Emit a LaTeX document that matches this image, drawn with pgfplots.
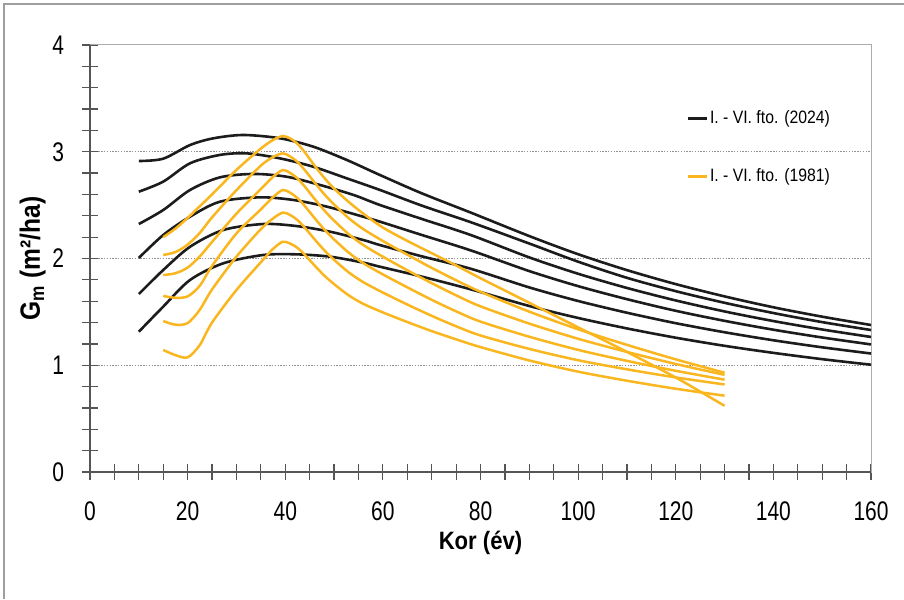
\documentclass[border=0pt]{standalone}
\usepackage{fontspec}
\setmainfont{Liberation Sans}[FakeStretch=0.88]
\newfontfamily\narrowfont{Liberation Sans}[FakeStretch=0.78]
\usepackage{pgfplots}
\pgfplotsset{compat=1.18}

\definecolor{curveblack}{RGB}{28,28,28}
\definecolor{curveyellow}{RGB}{249,182,30}
\definecolor{axisgray}{RGB}{85,85,85}

\begin{document}
\begin{tikzpicture}[x=1bp,y=1bp]
\useasboundingbox (0,0) rectangle (452,299.5);
\draw[gray!75, line width=0.8bp] (2,0) -- (2,297.5) -- (452,297.5);
\begin{axis}[
  at={(45bp,63.5bp)}, anchor=south west,
  scale only axis, width=390.5bp, height=213.5bp,
  xmin=0, xmax=160, ymin=0, ymax=4,
  xtick={0,20,...,160}, minor x tick num=3,
  ytick={0,1,2,3,4}, minor y tick num=4,
  tick align=center, tick pos=left,
  major tick length=8bp, minor tick length=8bp,
  tick style={axisgray, line width=0.6bp},
  axis line style={gray!65, line width=0.5bp},
  ymajorgrids,
  grid style={gray!85, line width=0.5bp, dash pattern=on 0.7bp off 0.7bp},
  /pgf/number format/assume math mode=true,
  ticklabel style={font=\narrowfont\fontsize{13.5}{15}\selectfont},
  xticklabel style={yshift=-7.5bp},
  yticklabel style={xshift=-5.5bp},
  xlabel={Kor (év)},
  ylabel={G\textsubscript{m} (m²/ha)},
  xlabel style={font=\fontsize{12.6}{14}\selectfont\bfseries, yshift=2bp},
  ylabel style={font=\fontsize{14}{16}\selectfont\bfseries, yshift=-3.5bp},
  legend style={at={(axis cs:122.1,3.41)}, anchor=north west, draw=none, fill=none,
    font=\fontsize{9}{11}\selectfont, row sep=19bp, inner sep=0pt,
    nodes={inner sep=1bp}},
  legend cell align=left,
  legend image code/.code={\draw[#1] (0bp,0bp) -- (9.5bp,0bp);},
  every axis plot/.append style={smooth, no marks},
  extra description/.code={
    \draw[axisgray, line width=0.7bp] (rel axis cs:0,1) -- (rel axis cs:0,0) -- (rel axis cs:1,0);
  },
]
% 2024 curves
\addplot[curveblack, line width=1.3bp] coordinates {
(10,2.913) (15,2.935) (20.5,3.063) (25.3,3.126) (31.4,3.157) (38.9,3.126) (45.7,3.048)
(52.6,2.923) (59.4,2.782) (68,2.61) (78,2.43) (90,2.21) (100,2.04) (110,1.891)
(120,1.76) (130,1.645) (140,1.543) (150,1.455) (160,1.377)};
\addlegendentry{I. - VI. fto. (2024)}
\addplot[curveblack, line width=1.3bp, forget plot] coordinates {
(10,2.626) (15,2.72) (20.5,2.892) (26.6,2.97) (32.1,2.985) (38.9,2.938) (45.7,2.86)
(52.6,2.751) (59.4,2.642) (68,2.495) (78,2.34) (90,2.14) (100,1.97) (110,1.819)
(120,1.694) (130,1.585) (140,1.489) (150,1.404) (160,1.33)};
\addplot[curveblack, line width=1.3bp, forget plot] coordinates {
(10,2.323) (15,2.454) (20.5,2.642) (26.6,2.76) (33.5,2.792) (40.3,2.766) (47.1,2.689)
(54,2.595) (59.4,2.501) (68,2.37) (78,2.22) (90,2.01) (100,1.857) (110,1.724)
(120,1.607) (130,1.504) (140,1.414) (150,1.335) (160,1.265)};
\addplot[curveblack, line width=1.3bp, forget plot] coordinates {
(10,2.005) (15,2.22) (20.5,2.392) (26.6,2.532) (34.8,2.573) (41.7,2.548) (48.5,2.486)
(55.3,2.40) (59.4,2.345) (68,2.22) (78,2.076) (90,1.882) (100,1.741) (110,1.619)
(120,1.51) (130,1.416) (140,1.333) (150,1.26) (160,1.195)};
\addplot[curveblack, line width=1.3bp, forget plot] coordinates {
(10,1.667) (15,1.892) (20.5,2.11) (27.3,2.267) (35.5,2.323) (42.3,2.304) (49.2,2.251)
(56,2.173) (59.4,2.126) (68,2.02) (78,1.904) (90,1.729) (100,1.602) (110,1.492)
(120,1.394) (130,1.309) (140,1.234) (150,1.168) (160,1.11)};
\addplot[curveblack, line width=1.3bp, forget plot] coordinates {
(10,1.314) (15,1.549) (20.5,1.799) (27.3,1.955) (35.5,2.033) (42.3,2.039) (49.2,2.017)
(56,1.961) (59.4,1.923) (68,1.83) (78,1.711) (90,1.555) (100,1.443) (110,1.345)
(120,1.258) (130,1.182) (140,1.116) (150,1.057) (160,1.005)};
% 1981 curves
\addplot[curveyellow, line width=1.25bp] coordinates {
(15,2.20) (17.5,2.28) (20,2.38) (22.5,2.49) (25,2.60) (30,2.83) (35,3.03) (37.5,3.11)
(39.5,3.147) (41,3.125) (42.5,3.075) (44,2.995) (46,2.87) (48,2.755) (50,2.655)
(53,2.53) (56,2.42) (60,2.29) (65,2.165) (70,2.05) (75,1.935) (80,1.815) (90,1.585)
(100,1.355) (110,1.125) (120,0.885) (130,0.62)};
\addlegendentry{I. - VI. fto. (1981)}
\addplot[curveyellow, line width=1.25bp, forget plot] coordinates {
(15,2.033) (17.5,2.06) (20,2.13) (22.5,2.24) (25,2.385) (30,2.64) (35,2.87) (37.5,2.95)
(39.5,2.985) (41,2.956) (42.5,2.905) (44,2.828) (46,2.713) (48,2.602) (50,2.507)
(53,2.378) (56,2.275) (60,2.164) (65,2.036) (70,1.912) (75,1.796) (80,1.688)
(90,1.502) (100,1.337) (110,1.191) (120,1.055) (130,0.93)};
\addplot[curveyellow, line width=1.25bp, forget plot] coordinates {
(15,1.845) (17.5,1.862) (20,1.915) (22.5,2.02) (25,2.155) (30,2.42) (35,2.65) (37.5,2.765)
(39.5,2.829) (41,2.801) (42.5,2.75) (44,2.674) (46,2.559) (48,2.45) (50,2.355)
(53,2.228) (56,2.126) (60,2.017) (65,1.89) (70,1.769) (75,1.655) (80,1.552)
(90,1.39) (100,1.248) (110,1.125) (120,1.012) (130,0.91)};
\addplot[curveyellow, line width=1.25bp, forget plot] coordinates {
(15,1.649) (17.5,1.632) (20,1.645) (22.5,1.745) (25,1.93) (30,2.235) (35,2.46) (37.5,2.575)
(39.5,2.642) (41,2.616) (42.5,2.566) (44,2.492) (46,2.379) (48,2.272) (50,2.179)
(53,2.055) (56,1.956) (60,1.851) (65,1.73) (70,1.613) (75,1.505) (80,1.409)
(90,1.267) (100,1.144) (110,1.041) (120,0.948) (130,0.865)};
\addplot[curveyellow, line width=1.25bp, forget plot] coordinates {
(15,1.414) (17.5,1.38) (20,1.395) (22.5,1.52) (25,1.71) (30,2.017) (35,2.275) (37.5,2.375)
(39.5,2.43) (41,2.407) (42.5,2.36) (44,2.289) (46,2.18) (48,2.077) (50,1.988)
(53,1.87) (56,1.778) (60,1.681) (65,1.569) (70,1.463) (75,1.365) (80,1.279)
(90,1.153) (100,1.047) (110,0.962) (120,0.886) (130,0.82)};
\addplot[curveyellow, line width=1.25bp, forget plot] coordinates {
(15,1.143) (17.5,1.095) (20,1.074) (22.5,1.19) (25,1.40) (30,1.705) (35,1.965) (37.5,2.09)
(39.5,2.157) (41,2.14) (42.5,2.10) (44,2.035) (46,1.935) (48,1.84) (50,1.76)
(53,1.655) (56,1.575) (60,1.495) (65,1.405) (70,1.32) (75,1.243) (80,1.17)
(90,1.045) (100,0.94) (110,0.855) (120,0.78) (130,0.715)};
\end{axis}
\end{tikzpicture}
\end{document}
